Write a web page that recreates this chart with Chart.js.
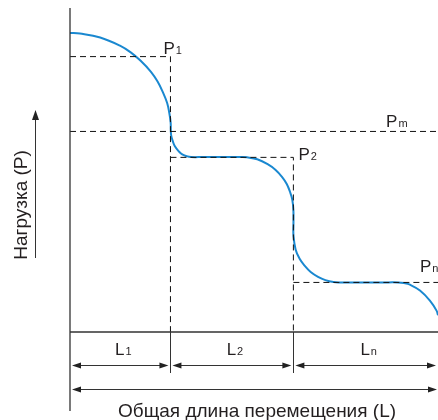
<!DOCTYPE html>
<html lang="ru">
<head>
<meta charset="UTF-8">
<script src="https://cdn.jsdelivr.net/npm/chart.js"></script>
<style>
*{margin:0;padding:0;}
body{background:#fff;}
#wrap{width:438px;height:420px;}
</style>
</head>
<body>
<div id="wrap"><canvas id="myChart"></canvas></div>
<script>
// load curve (x: travel 0..100, y: load 0..100)
const curveX = [0, 2.7, 8.2, 13.7, 16.5, 19.2, 22.0, 23.8, 25.2, 26.4, 27.0, 27.35, 27.4, 27.5, 27.9, 28.5,
	29.6, 30.5, 31.6, 32.9, 36.0, 40.0, 44.0, 46.7, 48.1, 50.9, 53.7, 55.8, 57.6, 58.9, 59.8, 60.4, 60.7,
	60.72, 60.72, 61.3, 62.4, 63.8, 65.4, 67.4, 69.4, 71.6, 73.4, 77.0, 81.0, 85.0, 89.1, 90.8, 92.4,
	95.1, 97.8, 99.6, 100];
const curveY = [92.3, 92.1, 90.9, 88.3, 86.3, 83.7, 80.3, 77.3, 74.1, 70.7, 67.5, 64.7, 62.3, 60.6, 59.0, 57.3,
	55.7, 54.8, 54.3, 54.0, 54.0, 54.0, 54.0, 54.0, 53.9, 53.3, 51.8, 50.1, 47.9, 45.7, 43.2, 40.9, 37.7,
	33.0, 29.9, 25.5, 22.6, 20.4, 18.5, 17.0, 16.0, 15.4, 15.3, 15.3, 15.3, 15.3, 15.3, 15.1, 14.6,
	12.8, 9.7, 6.6, 5.2];

// load levels
const levelNames = ['P', 'P', 'P', 'P'];
const levelSubs = ['1', 'm', '2', 'n'];
const levelValues = [85.0, 61.9, 53.9, 15.3];

// travel segments
const segNames = ['L', 'L', 'L'];
const segSubs = ['1', '2', 'n'];
const segEnds = [27.3, 60.7, 100];

const xTitle = 'Общая длина перемещения (L)';
const yTitle = 'Нагрузка (P)';

const b1 = segEnds[0], b2 = segEnds[1], xEnd = segEnds[2];
const [p1, pm, p2, pn] = levelValues;

const dashed = (pts) => ({
	data: pts,
	showLine: true,
	borderColor: '#111',
	borderWidth: 1,
	borderDash: [6, 4],
	pointRadius: 0,
	tension: 0
});

const curve = curveX.map((x, i) => ({ x: x, y: curveY[i] }));

const textColor = '#231f20';
const font = 'Liberation Sans, Arial, sans-serif';

function subText(ctx, x, y, main, sub, size, subSize, align) {
	ctx.font = size + 'px ' + font;
	const w1 = ctx.measureText(main).width;
	ctx.font = subSize + 'px ' + font;
	const w2 = ctx.measureText(sub).width;
	let sx = x;
	if (align === 'center') sx = x - (w1 + 1 + w2) / 2;
	ctx.textAlign = 'left';
	ctx.textBaseline = 'alphabetic';
	ctx.font = size + 'px ' + font;
	ctx.fillText(main, sx, y);
	ctx.font = subSize + 'px ' + font;
	ctx.fillText(sub, sx + w1 + 1, y);
}

function arrowHead(ctx, x, y, dir) {
	// dir: 1 points right, -1 left, 'up'
	ctx.beginPath();
	if (dir === 'up') {
		ctx.moveTo(x, y);
		ctx.lineTo(x - 3.5, y + 10);
		ctx.lineTo(x + 3.5, y + 10);
	} else {
		ctx.moveTo(x, y);
		ctx.lineTo(x - dir * 9, y - 3);
		ctx.lineTo(x - dir * 9, y + 3);
	}
	ctx.closePath();
	ctx.fill();
}

function dimArrow(ctx, x1, x2, y) {
	ctx.beginPath();
	ctx.moveTo(x1 + 2, y);
	ctx.lineTo(x2 - 2, y);
	ctx.stroke();
	arrowHead(ctx, x1, y, -1);
	arrowHead(ctx, x2, y, 1);
}

const decor = {
	id: 'decor',
	afterDraw: (chart) => {
		const ctx = chart.ctx;
		const xs = chart.scales.x, ys = chart.scales.y;
		const a = chart.chartArea;
		ctx.save();
		ctx.strokeStyle = '#333';
		ctx.fillStyle = '#222';
		ctx.lineWidth = 1.3;
		// axes
		ctx.beginPath();
		ctx.moveTo(a.left, a.top);
		ctx.lineTo(a.left, 411);
		ctx.moveTo(a.left, a.bottom);
		ctx.lineTo(a.right, a.bottom);
		ctx.stroke();
		// segment dividers below axis
		ctx.lineWidth = 1;
		ctx.beginPath();
		[b1, b2].forEach(v => {
			const px = Math.round(xs.getPixelForValue(v)) + 0.5;
			ctx.moveTo(px, a.bottom);
			ctx.lineTo(px, a.bottom + 41);
		});
		ctx.stroke();
		// dimension arrows
		const xs0 = xs.getPixelForValue(0);
		const edges = [xs0].concat(segEnds.map(v => xs.getPixelForValue(v)));
		for (let i = 0; i < segEnds.length; i++) {
			dimArrow(ctx, edges[i] + 2, Math.min(edges[i + 1], a.right) - 2, a.bottom + 33.5);
		}
		dimArrow(ctx, xs0 + 2, a.right - 1, a.bottom + 57.5);
		// y arrow
		ctx.beginPath();
		ctx.moveTo(35.5, 258);
		ctx.lineTo(35.5, 118);
		ctx.stroke();
		arrowHead(ctx, 35.5, 110, 'up');

		ctx.fillStyle = textColor;
		// segment labels
		for (let i = 0; i < segEnds.length; i++) {
			const cx = (edges[i] + edges[i + 1]) / 2 + 3;
			subText(ctx, cx, a.bottom + 23, segNames[i], segSubs[i], 17, 11, 'center');
		}
		// level labels
		subText(ctx, xs.getPixelForValue(b1) - 7, ys.getPixelForValue(p1) - 3, levelNames[0], levelSubs[0], 17, 11);
		subText(ctx, xs.getPixelForValue(85.9), ys.getPixelForValue(pm) - 4, levelNames[1], levelSubs[1], 17, 11);
		subText(ctx, xs.getPixelForValue(b2) + 5, ys.getPixelForValue(p2) + 3, levelNames[2], levelSubs[2], 17, 11);
		subText(ctx, xs.getPixelForValue(95.1), ys.getPixelForValue(pn) - 10, levelNames[3], levelSubs[3], 17, 11);
		// titles
		ctx.font = '19px ' + font;
		ctx.textAlign = 'center';
		ctx.textBaseline = 'alphabetic';
		ctx.fillText(xTitle, 257, 417);
		ctx.translate(27, 205);
		ctx.rotate(-Math.PI / 2);
		ctx.fillText(yTitle, 0, 0);
		ctx.restore();
	}
};

const config = {
	type: 'scatter',
	data: {
		datasets: [
			dashed([{ x: 0, y: p1 }, { x: b1, y: p1 }, { x: b1, y: 0 }]),
			dashed([{ x: 0, y: pm }, { x: xEnd, y: pm }]),
			dashed([{ x: b1, y: p2 }, { x: b2, y: p2 }, { x: b2, y: 0 }]),
			dashed([{ x: b2, y: pn }, { x: xEnd, y: pn }]),
			{
				data: curve,
				showLine: true,
				borderColor: '#1a88d0',
				borderWidth: 2,
				pointRadius: 0,
				tension: 0.4
			}
		]
	},
	plugins: [decor],
	options: {
		responsive: true,
		maintainAspectRatio: false,
		animation: false,
		layout: { padding: { left: 70, right: 0, top: 8, bottom: 88 } },
		plugins: { legend: { display: false }, tooltip: { enabled: false } },
		scales: {
			x: { type: 'linear', min: 0, max: 100, display: false },
			y: { type: 'linear', min: 0, max: 100, display: false }
		}
	}
};

new Chart(document.getElementById('myChart'), config);
</script>
</body>
</html>
